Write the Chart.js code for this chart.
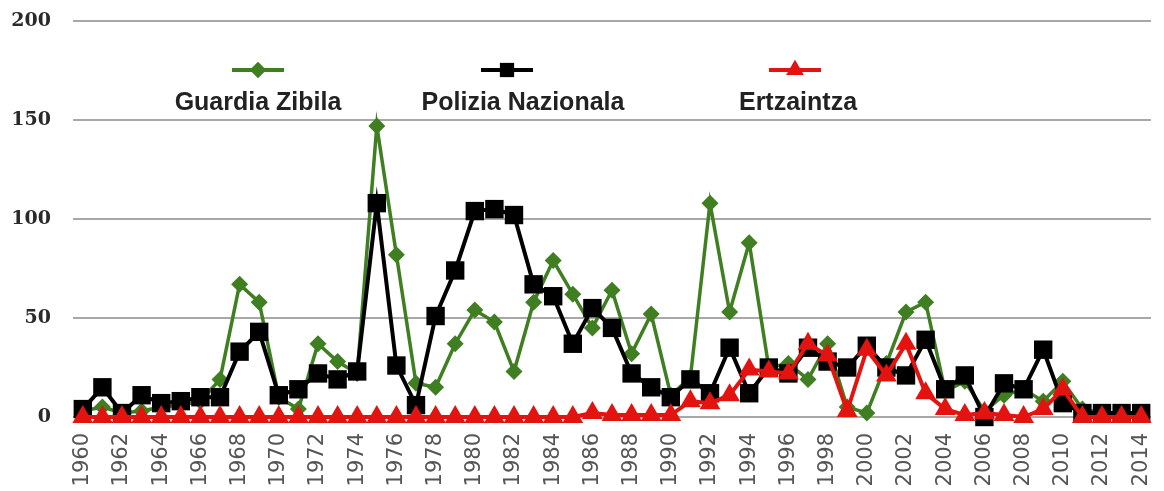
<!DOCTYPE html>
<html>
<head>
<meta charset="utf-8">
<script src="https://cdn.jsdelivr.net/npm/chart.js@4/dist/chart.umd.min.js"></script>
<style>
    body { margin: 0; background: #fff; }
    canvas { display: block; }
</style>
</head>
<body>
<canvas id="chart" width="1164" height="491"></canvas>
<script>
const years = [];
for (let y = 1960; y <= 2014; y++) {
    years.push(String(y));
}

const seriesNames = ['Guardia Zibila', 'Polizia Nazionala', 'Ertzaintza'];

const guardiaZibila = [
     3,  5,  2,  3,  5,  6,  8, 19, 67, 58,
    10,  4, 37, 28, 22,147, 82, 17, 15, 37,
    54, 48, 23, 58, 79, 62, 45, 64, 32, 52,
    11, 20,108, 53, 88, 25, 27, 19, 37,  5,
     2, 27, 53, 58, 13, 18,  3, 11, 14,  8,
    18,  4,  2,  2,  2
];

const poliziaNazionala = [
     4, 15,  2, 11,  7,  8, 10, 10, 33, 43,
    11, 14, 22, 19, 23,108, 26,  6, 51, 74,
   104,105,102, 67, 61, 37, 55, 45, 22, 15,
    10, 19, 12, 35, 12, 25, 22, 35, 28, 25,
    36, 25, 21, 39, 14, 21,  0, 17, 14, 34,
     7,  2,  2,  2,  2
];

const ertzaintza = [
     0,  0,  0,  0,  0,  0,  0,  0,  0,  0,
     0,  0,  0,  0,  0,  0,  0,  0,  0,  0,
     0,  0,  0,  0,  0,  0,  2,  1,  1,  1,
     1,  8,  7, 11, 24, 23, 22, 37, 31,  3,
    34, 21, 37, 12,  4,  1,  2,  1,  0,  4,
    14,  0,  0,  0,  0
];

const yTicks = [0, 50, 100, 150, 200];

// look of each series: colour, marker, marker size
const seriesStyles = [
    { color: '#3f7f22', point: 'rectRot', radius: 8.5, legendRadius: 8 },
    { color: '#000000', point: 'rect', radius: 13, legendRadius: 10 },
    { color: '#e3140f', point: 'triangle', radius: 12, legendRadius: 10 }
];

// legend placed inside the plot: marker centre x, text centre x
const legendMarkerX = [258, 507, 795];
const legendTextX = [258, 523, 798];

const innerLegend = {
    id: 'innerLegend',
    afterDraw(chart) {
        const ctx = chart.ctx;
        ctx.save();
        chart.data.datasets.forEach((ds, i) => {
            const st = seriesStyles[i];
            const mx = legendMarkerX[i];
            ctx.strokeStyle = st.color;
            ctx.lineWidth = 4;
            ctx.beginPath();
            ctx.moveTo(mx - 26, 70);
            ctx.lineTo(mx + 26, 70);
            ctx.stroke();
            ctx.fillStyle = st.color;
            Chart.helpers.drawPoint(ctx, {
                pointStyle: st.point,
                radius: st.legendRadius,
                rotation: 0,
                borderWidth: 0
            }, mx, 70);
            ctx.fill();

            ctx.fillStyle = '#222';
            ctx.font = 'bold 25px "Liberation Sans", Arial, sans-serif';
            ctx.textAlign = 'center';
            ctx.textBaseline = 'alphabetic';
            ctx.fillText(ds.label, legendTextX[i], 110);
        });
        ctx.restore();
    }
};

const allSeries = [guardiaZibila, poliziaNazionala, ertzaintza];

const ctx = document.getElementById('chart').getContext('2d');

new Chart(ctx, {
    type: 'line',
    plugins: [innerLegend],
    data: {
        labels: years,
        datasets: allSeries.map((values, i) => ({
            label: seriesNames[i],
            data: values,
            borderColor: seriesStyles[i].color,
            backgroundColor: seriesStyles[i].color,
            pointBackgroundColor: seriesStyles[i].color,
            pointBorderColor: seriesStyles[i].color,
            pointBorderWidth: 0,
            pointStyle: seriesStyles[i].point,
            pointRadius: seriesStyles[i].radius,
            borderWidth: i === 0 ? 3.5 : 4,
            tension: 0,
            clip: false,
            order: 3 - i
        }))
    },
    options: {
        responsive: false,
        animation: false,
        devicePixelRatio: 1,
        layout: {
            padding: { top: 21, right: 4, bottom: 0, left: 0 }
        },
        plugins: {
            legend: { display: false },
            tooltip: { enabled: false }
        },
        scales: {
            x: {
                offset: true,
                grid: { display: false, drawTicks: false },
                border: { display: false },
                afterFit(scale) {
                    scale.height = 74;
                    scale.paddingLeft = 0;
                    scale.paddingRight = 0;
                },
                ticks: {
                    autoSkip: false,
                    minRotation: 90,
                    maxRotation: 90,
                    padding: 16,
                    color: '#555',
                    font: { family: '"DejaVu Sans", sans-serif', size: 21 },
                    callback: function(value, index) {
                        return index % 2 === 0 ? years[index] : '';
                    }
                }
            },
            y: {
                min: 0,
                max: 200,
                afterFit(scale) {
                    scale.width = 73;
                    scale.paddingTop = 0;
                    scale.paddingBottom = 0;
                },
                afterBuildTicks(scale) {
                    scale.ticks = yTicks.map(v => ({ value: v }));
                },
                grid: {
                    color: '#a8a8a8',
                    lineWidth: 2,
                    drawTicks: false
                },
                border: { display: false },
                ticks: {
                    padding: 22,
                    color: '#2a2a2a',
                    font: { family: '"DejaVu Serif", serif', size: 19, weight: 'bold' }
                }
            }
        }
    }
});
</script>
</body>
</html>
